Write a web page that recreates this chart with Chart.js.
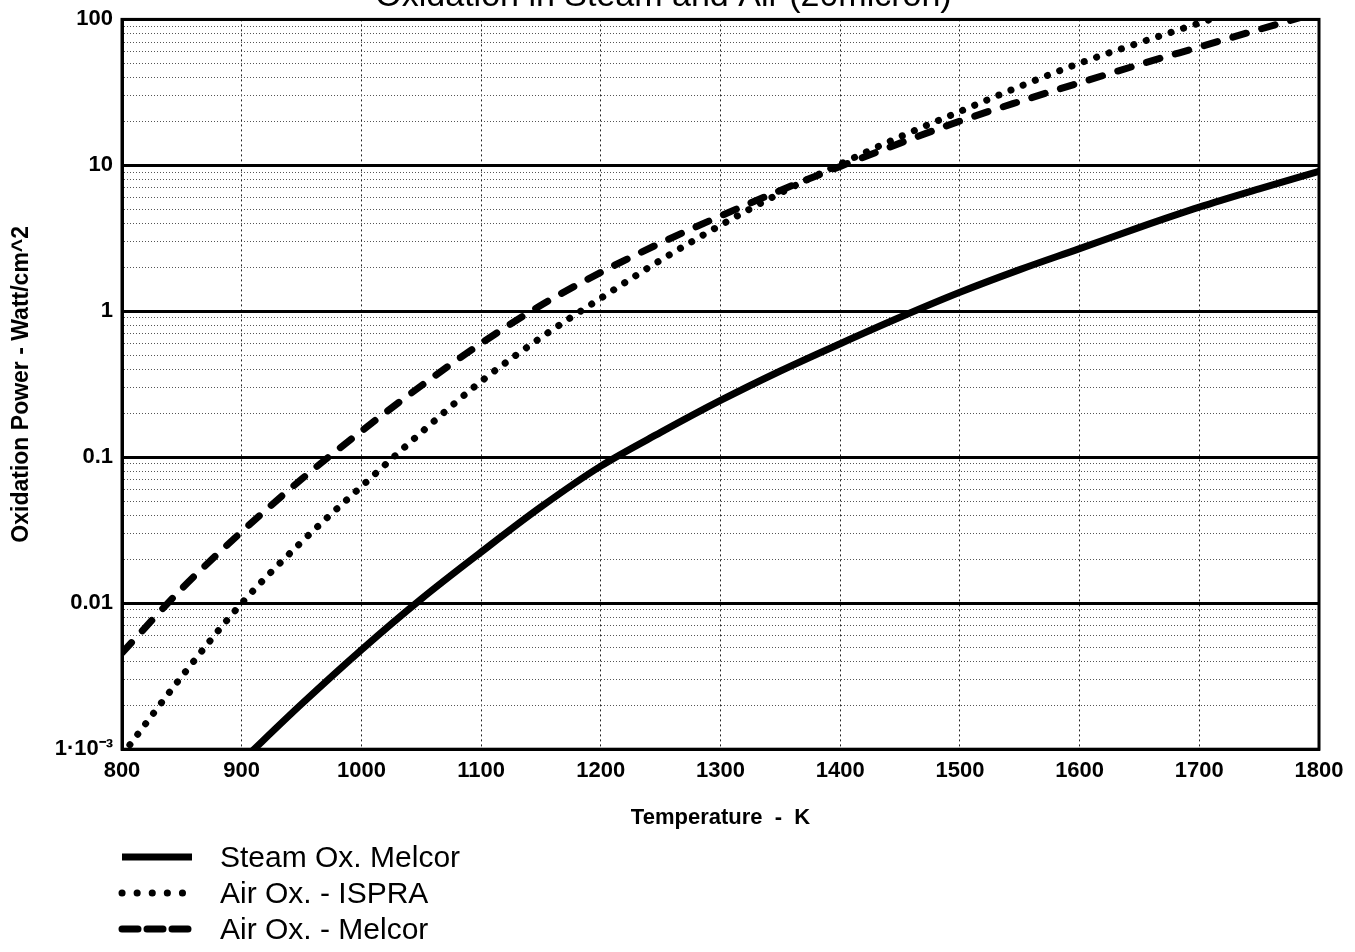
<!DOCTYPE html>
<html>
<head>
<meta charset="utf-8">
<title>Oxidation in Steam and Air (20micron)</title>
<script src="https://cdn.jsdelivr.net/npm/chart.js@4.4.0/dist/chart.umd.min.js"></script>
<style>
  html, body { margin: 0; padding: 0; background: #fff; }
  body { width: 1355px; height: 952px; position: relative; overflow: hidden; font-family: "Liberation Sans", Arial, sans-serif; }
  #wrap { position: absolute; left: 0; top: -30px; width: 1355px; height: 870px; }
  #legend { position: absolute; left: 118px; top: 839px; }
  .row { display: flex; align-items: center; height: 36px; }
  .row svg { width: 80px; height: 14px; margin-right: 22px; }
  .row span { font-size: 30px; color: #000; }
</style>
</head>
<body>
<div id="wrap"><canvas id="oxChart"></canvas></div>
<div id="legend"></div>
<script>
// temperatures in K
const temps = [800, 850, 900, 950, 1000, 1050, 1100, 1150, 1200, 1250, 1300,
               1350, 1400, 1450, 1500, 1550, 1600, 1650, 1700, 1750, 1800];

// oxidation power, Watt/cm^2
const steamMelcor = [null, null, 0.00083, 0.00204, 0.0048, 0.0107, 0.0224, 0.0457, 0.087, 0.148, 0.245,
                     0.39, 0.60, 0.91, 1.35, 1.93, 2.69, 3.76, 5.17, 6.9, 9.1];
const airIspra = [0.00091, 0.00316, 0.0100, 0.0263, 0.0631, 0.148, 0.331, 0.661, 1.23, 2.24, 3.89,
                  6.46, 10.2, 15.7, 23.4, 34.7, 50.1, 69.2, 94.4, 129, null];
const airMelcor = [0.00457, 0.0126, 0.0309, 0.0708, 0.151, 0.309, 0.603, 1.10, 1.85, 2.94, 4.5,
                   6.73, 9.84, 14.2, 20.1, 27.4, 36.8, 49.1, 64.7, 85.3, 112];

const seriesNames = ['Steam Ox. Melcor', 'Air Ox. - ISPRA', 'Air Ox. - Melcor'];

const yTickValues = [100, 10, 1, 0.1, 0.01, 0.001];
const yTickLabels = ['100', '10', '1', '0.1', '0.01', '1\u00b710\u207b\u00b3'];

const FONT = '"Liberation Sans", Arial, sans-serif';

const isMajor = v => v != null && Math.abs(Math.log10(v) - Math.round(Math.log10(v))) < 1e-6;
const toPoints = vals => temps.map((t, i) => ({ x: t, y: vals[i] }));

// thick frame round the plot area
const frame = {
    id: 'frame',
    afterDraw(chart) {
        const { ctx, chartArea: a } = chart;
        ctx.save();
        ctx.strokeStyle = '#000';
        ctx.lineWidth = 3;
        ctx.strokeRect(a.left, a.top, a.right - a.left, a.bottom - a.top);
        ctx.restore();
    }
};

const styles = [
    { borderDash: [], capStyle: 'butt', width: 7 },
    { borderDash: [0.1, 13], capStyle: 'round', width: 7 },
    { borderDash: [14, 16], capStyle: 'round', width: 7 }
];

const chart = new Chart(document.getElementById('oxChart'), {
    type: 'line',
    data: {
        datasets: [steamMelcor, airIspra, airMelcor].map((vals, i) => ({
            label: seriesNames[i],
            data: toPoints(vals),
            borderColor: '#000',
            borderWidth: styles[i].width,
            borderDash: styles[i].borderDash,
            borderCapStyle: styles[i].capStyle,
            pointRadius: 0,
            cubicInterpolationMode: 'monotone',
            fill: false
        }))
    },
    options: {
        responsive: true,
        maintainAspectRatio: false,
        animation: false,
        layout: { padding: { left: 8, right: 36, top: 0, bottom: 4 } },
        scales: {
            x: {
                type: 'linear',
                min: 800,
                max: 1800,
                ticks: {
                    stepSize: 100,
                    padding: 9,
                    color: '#000',
                    font: { family: FONT, size: 22, weight: 'bold' },
                    maxRotation: 0,
                    callback: v => String(v)
                },
                grid: { color: '#222', lineWidth: 1, drawTicks: false },
                border: { color: '#000', width: 3, dash: [2, 3] },
                title: {
                    display: true,
                    text: 'Temperature  -  K',
                    color: '#000',
                    font: { family: FONT, size: 22, weight: 'bold' },
                    padding: { top: 11, bottom: 5 }
                }
            },
            y: {
                type: 'logarithmic',
                min: 0.001,
                max: 100,
                afterBuildTicks: scale => {
                    const t = [];
                    for (let d = -3; d < 2; d++) {
                        for (let m = 1; m < 10; m++) t.push({ value: m * Math.pow(10, d) });
                    }
                    t.push({ value: 100 });
                    scale.ticks = t;
                },
                afterFit: scale => { scale.width = 114; },
                ticks: {
                    autoSkip: false,
                    padding: 9,
                    color: '#000',
                    font: { family: FONT, size: 22, weight: 'bold' },
                    callback: v => {
                        const k = yTickValues.findIndex(t => Math.abs(Math.log10(t) - Math.log10(v)) < 1e-6);
                        return k >= 0 ? yTickLabels[k] : '';
                    }
                },
                grid: {
                    drawTicks: false,
                    color: ctx => isMajor(ctx.tick && ctx.tick.value) ? '#000' : '#555',
                    lineWidth: ctx => isMajor(ctx.tick && ctx.tick.value) ? 3 : 1
                },
                border: {
                    color: '#000',
                    width: 3,
                    dash: ctx => isMajor(ctx.tick && ctx.tick.value) ? [] : [1, 2]
                },
                title: {
                    display: true,
                    text: 'Oxidation Power - Watt/cm^2',
                    color: '#000',
                    font: { family: FONT, size: 23, weight: 'bold' },
                    padding: { top: 0, bottom: 4 }
                }
            }
        },
        plugins: {
            legend: { display: false },
            tooltip: { enabled: false },
            title: {
                display: true,
                text: 'Oxidation in Steam and Air (20micron)',
                color: '#000',
                font: { family: FONT, size: 34, weight: 'normal' },
                padding: { top: 6, bottom: 2.6 }
            }
        }
    },
    plugins: [frame]
});

// legend below the chart, one series per row
const legend = document.getElementById('legend');
const dashes = ['', '0.1 15', '16 9'];
const caps = ['butt', 'round', 'round'];
chart.data.datasets.forEach((ds, i) => {
    const row = document.createElement('div');
    row.className = 'row';
    row.innerHTML =
        '<svg viewBox="0 0 80 14"><line x1="4" y1="7" x2="74" y2="7" stroke="#000" stroke-width="7"' +
        ' stroke-linecap="' + caps[i] + '"' + (dashes[i] ? ' stroke-dasharray="' + dashes[i] + '"' : '') +
        '/></svg><span>' + ds.label + '</span>';
    legend.appendChild(row);
});
</script>
</body>
</html>
